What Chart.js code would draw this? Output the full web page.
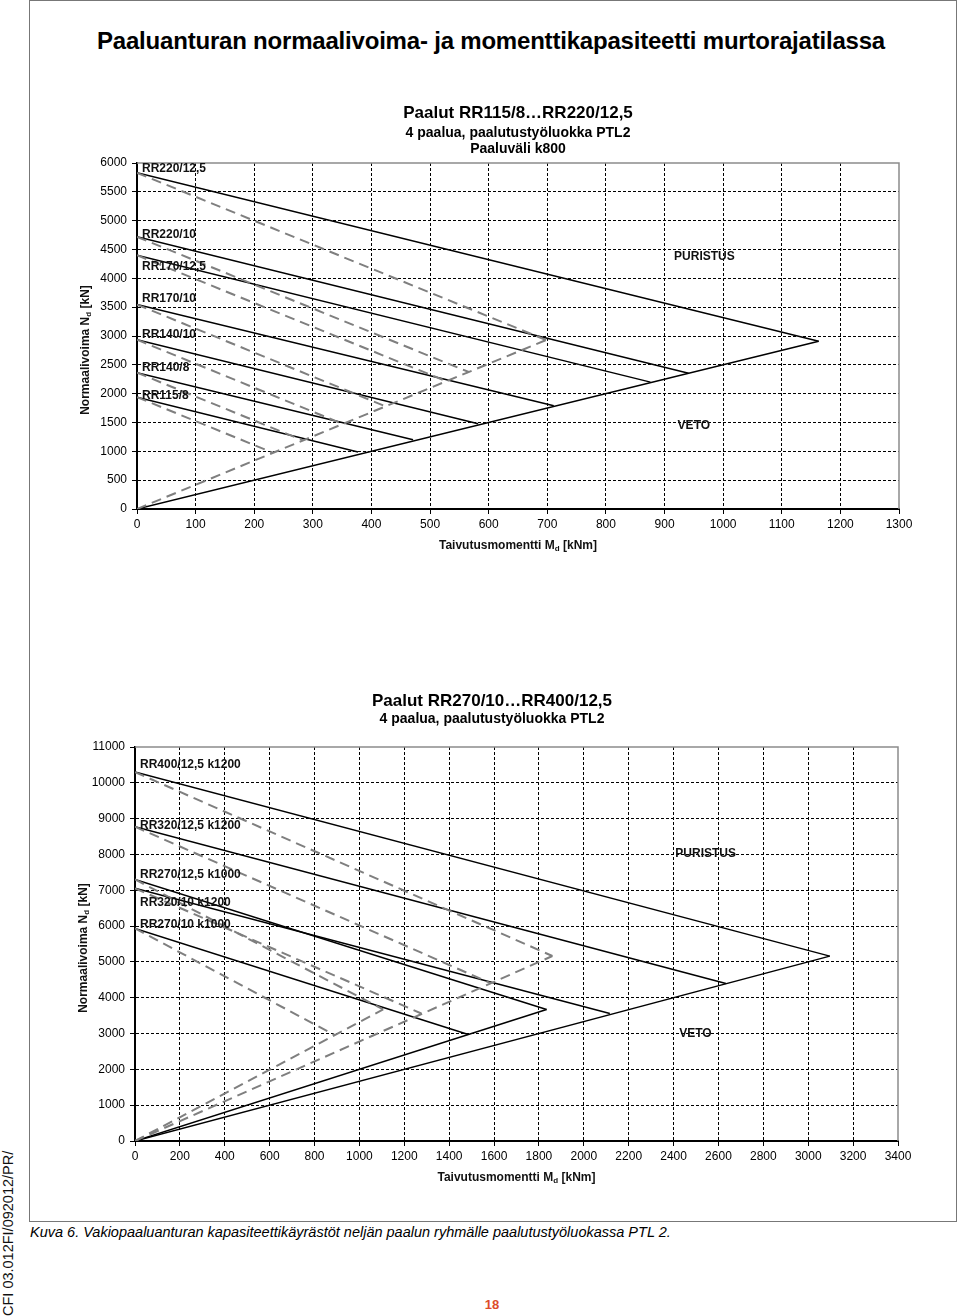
<!DOCTYPE html>
<html lang="fi">
<head>
<meta charset="utf-8">
<title>Paaluanturan normaalivoima- ja momenttikapasiteetti murtorajatilassa</title>
<script src="https://cdn.jsdelivr.net/npm/chart.js@4.4.1/dist/chart.umd.min.js"></script>
<style>
  html, body { margin: 0; padding: 0; background: #fff; }
  body { width: 960px; height: 1316px; position: relative; overflow: hidden;
         font-family: "Liberation Sans", Arial, sans-serif; color: #000; }
  .frame { position: absolute; left: 29px; top: 0; width: 928px; height: 1222px;
           border: 1.5px solid #777; box-sizing: border-box; }
  .chartBox { position: absolute; left: 30px; }
  #pageTitle { position: absolute; left: 41px; width: 900px; top: 27px; text-align: center;
               font-weight: bold; font-size: 24px; letter-spacing: -0.2px; line-height: 28px; }
  #caption { position: absolute; left: 30px; top: 1223px; font-style: italic; font-size: 14.5px;
             line-height: 18px; white-space: nowrap; }
  #pageNo { position: absolute; left: 478px; width: 28px; top: 1297px; text-align: center;
            font-weight: bold; font-size: 13px; line-height: 16px; color: #dd4b2a; }
  #sideCode { position: absolute; left: 0; top: 1316px; transform-origin: 0 0; transform: rotate(-90deg);
              white-space: nowrap; font-size: 14.5px; line-height: 17px; color: #111; }
</style>
</head>
<body>
<div class="frame"></div>
<div id="pageTitle">Paaluanturan normaalivoima- ja momenttikapasiteetti murtorajatilassa</div>
<div class="chartBox" style="top:90px"><canvas id="chart1" width="920" height="470"></canvas></div>
<div class="chartBox" style="top:670px"><canvas id="chart2" width="920" height="522"></canvas></div>
<div id="caption">Kuva 6. Vakiopaaluanturan kapasiteettikäyrästöt neljän paalun ryhmälle paalutustyöluokassa PTL 2.</div>
<div id="pageNo">18</div>
<div id="sideCode">CFI 03.012FI/092012/PR/</div>

<script>
// Chart 1: RR115/8 ... RR220/12,5, pile spacing k800
const piles1 = ["RR220/12,5", "RR220/10", "RR170/12,5", "RR170/10", "RR140/10", "RR140/8", "RR115/8"];
const nStart1 = [5830, 4720, 4400, 3545, 2935, 2365, 1940];    // N at M = 0
const tipM1 = [1163, 941, 876, 711, 582, 471, 377];             // solid line end, M
const tipN1 = [2910, 2355, 2200, 1790, 1478, 1200, 987];        // solid line end, N
const dashM1 = [698, 566, 528, 424, 351, 283, 232];             // dashed line end, M
const dashN1 = [2930, 2375, 2215, 1780, 1475, 1190, 975];       // dashed line end, N
const vetoM1 = [1163];
const vetoN1 = [2910];
const vetoDashM1 = [698];
const vetoDashN1 = [2930];
const labelN1 = [5900, 4755, 4205, 3645, 3015, 2445, 1965];     // where the names sit
const xMax1 = 1300, xStep1 = 100, yMax1 = 6000, yStep1 = 500;

// Chart 2: RR270/10 ... RR400/12,5
const piles2 = ["RR400/12,5 k1200", "RR320/12,5 k1200", "RR270/12,5 k1000", "RR320/10 k1200", "RR270/10 k1000"];
const nStart2 = [10300, 8775, 7305, 7055, 5935];
const tipM2 = [3096, 2633, 1834, 2116, 1485];
const tipN2 = [5162, 4399, 3672, 3561, 2974];
const dashM2 = [1860, 1587, 1106, 1276, 891];
const dashN2 = [5165, 4400, 3672, 3560, 2954];
const vetoM2 = [1834, 3096];
const vetoN2 = [3672, 5162];
const vetoDashM2 = [1106, 1860];
const vetoDashN2 = [3672, 5165];
const labelN2 = [10520, 8805, 7445, 6652, 6028];
const xMax2 = 3400, xStep2 = 200, yMax2 = 11000, yStep2 = 1000;

const FONT = '"Liberation Sans", Arial, sans-serif';

function seg(x1, y1, x2, y2, dashed) {
  return {
    data: [{x: x1, y: y1}, {x: x2, y: y2}],
    showLine: true,
    pointRadius: 0,
    fill: false,
    borderColor: dashed ? '#7f7f7f' : '#000',
    borderWidth: dashed ? 2 : 1.5,
    borderDash: dashed ? [10, 6] : []
  };
}

function buildSets(nStart, tipM, tipN, dashM, dashN, vM, vN, vdM, vdN) {
  const sets = [];
  nStart.forEach((n, i) => sets.push(seg(0, n, dashM[i], dashN[i], true)));
  vdM.forEach((m, i) => sets.push(seg(0, 0, m, vdN[i], true)));
  nStart.forEach((n, i) => sets.push(seg(0, n, tipM[i], tipN[i], false)));
  vM.forEach((m, i) => sets.push(seg(0, 0, m, vN[i], false)));
  return sets;
}

function drawSub(ctx, parts, cx, cy, rot) {
  const big = 'bold 12px ' + FONT, small = 'bold 8px ' + FONT;
  ctx.font = big;
  const w0 = ctx.measureText(parts[0]).width, w2 = ctx.measureText(parts[2]).width;
  ctx.font = small;
  const w1 = ctx.measureText(parts[1]).width;
  ctx.save();
  ctx.translate(cx, cy);
  ctx.rotate(rot);
  ctx.textAlign = 'left';
  ctx.textBaseline = 'middle';
  let xx = -(w0 + w1 + w2) / 2;
  ctx.font = big; ctx.fillText(parts[0], xx, 0); xx += w0;
  ctx.font = small; ctx.fillText(parts[1], xx, 3); xx += w1;
  ctx.font = big; ctx.fillText(parts[2], xx, 0);
  ctx.restore();
}

// plot frame, curve names, zone words and axis titles
const extras = {
  id: 'extras',
  afterDraw(chart, args, opts) {
    const {ctx, chartArea: a, scales: {x, y}} = chart;
    ctx.save();
    ctx.strokeStyle = '#8c8c8c';
    ctx.lineWidth = 1.5;
    ctx.beginPath();
    ctx.moveTo(a.left, a.top);
    ctx.lineTo(a.right, a.top);
    ctx.lineTo(a.right, a.bottom);
    ctx.stroke();

    ctx.fillStyle = '#111';
    ctx.font = 'bold 12px ' + FONT;
    ctx.textBaseline = 'middle';
    ctx.textAlign = 'left';
    opts.names.forEach((t, i) => ctx.fillText(t, a.left + 5, y.getPixelForValue(opts.nameN[i])));
    ctx.textAlign = 'center';
    opts.zones.forEach(z => ctx.fillText(z.text, x.getPixelForValue(z.m), y.getPixelForValue(z.n)));

    drawSub(ctx, ['Taivutusmomentti M', 'd', ' [kNm]'], (a.left + a.right) / 2, a.bottom + 37, 0);
    drawSub(ctx, ['Normaalivoima N', 'd', ' [kN]'], a.left - 51, (a.top + a.bottom) / 2 + opts.yTitleShift, -Math.PI / 2);
    ctx.restore();
  }
};

function axis(max, step, horizontal, size) {
  return {
    type: 'linear',
    position: horizontal ? 'bottom' : 'left',
    min: 0,
    max: max,
    afterFit(s) { if (horizontal) s.height = size; else s.width = size; },
    grid: {
      color: c => (c.tick && (c.tick.value === 0 || c.tick.value === max)) ? 'rgba(0,0,0,0)' : '#000',
      lineWidth: 1,
      tickColor: '#000',
      tickLength: 5
    },
    border: {display: true, color: '#000', width: 2, dash: [3, 2]},
    ticks: {
      stepSize: step,
      autoSkip: false,
      maxRotation: 0,
      padding: horizontal ? 3 : 5,
      color: '#000',
      font: {family: FONT, size: 12},
      callback: v => String(v)
    }
  };
}

function makeChart(id, cfg) {
  return new Chart(document.getElementById(id), {
    type: 'scatter',
    data: {datasets: cfg.sets},
    plugins: [extras],
    options: {
      responsive: false,
      animation: false,
      layout: {padding: {left: cfg.padLeft, right: cfg.padRight, top: 0, bottom: 0}},
      scales: {
        x: axis(cfg.xMax, cfg.xStep, true, 51),
        y: axis(cfg.yMax, cfg.yStep, false, cfg.yWidth)
      },
      plugins: {
        legend: {display: false},
        tooltip: {enabled: false},
        title: {
          display: true, fullSize: cfg.fullTitle, text: cfg.title, color: '#000',
          font: {family: FONT, size: 17, weight: 'bold', lineHeight: '20px'},
          padding: {top: cfg.titlePad, bottom: 0}
        },
        subtitle: {
          display: true, fullSize: cfg.fullTitle, text: cfg.subtitle, color: '#000',
          font: {family: FONT, size: 14, weight: 'bold', lineHeight: '16px'},
          padding: cfg.subPad
        },
        extras: {names: cfg.names, nameN: cfg.nameN, zones: cfg.zones, yTitleShift: cfg.yTitleShift}
      }
    }
  });
}

makeChart('chart1', {
  sets: buildSets(nStart1, tipM1, tipN1, dashM1, dashN1, vetoM1, vetoN1, vetoDashM1, vetoDashN1),
  xMax: xMax1, xStep: xStep1, yMax: yMax1, yStep: yStep1,
  yWidth: 107, padLeft: 0, padRight: 51, fullTitle: false,
  title: 'Paalut RR115/8…RR220/12,5',
  subtitle: ['4 paalua, paalutustyöluokka PTL2', 'Paaluväli k800'],
  titlePad: 13, subPad: {top: 2, bottom: 6},
  names: piles1, nameN: labelN1,
  zones: [{text: 'PURISTUS', m: 968, n: 4380}, {text: 'VETO', m: 950, n: 1443}],
  yTitleShift: 14
});

makeChart('chart2', {
  sets: buildSets(nStart2, tipM2, tipN2, dashM2, dashN2, vetoM2, vetoN2, vetoDashM2, vetoDashN2),
  xMax: xMax2, xStep: xStep2, yMax: yMax2, yStep: yStep2,
  yWidth: 49, padLeft: 56, padRight: 52, fullTitle: true,
  title: 'Paalut RR270/10…RR400/12,5',
  subtitle: '4 paalua, paalutustyöluokka PTL2',
  titlePad: 21, subPad: {top: 0, bottom: 20},
  names: piles2, nameN: labelN2,
  zones: [{text: 'PURISTUS', m: 2543, n: 8032}, {text: 'VETO', m: 2497, n: 3002}],
  yTitleShift: 4
});
</script>
</body>
</html>
